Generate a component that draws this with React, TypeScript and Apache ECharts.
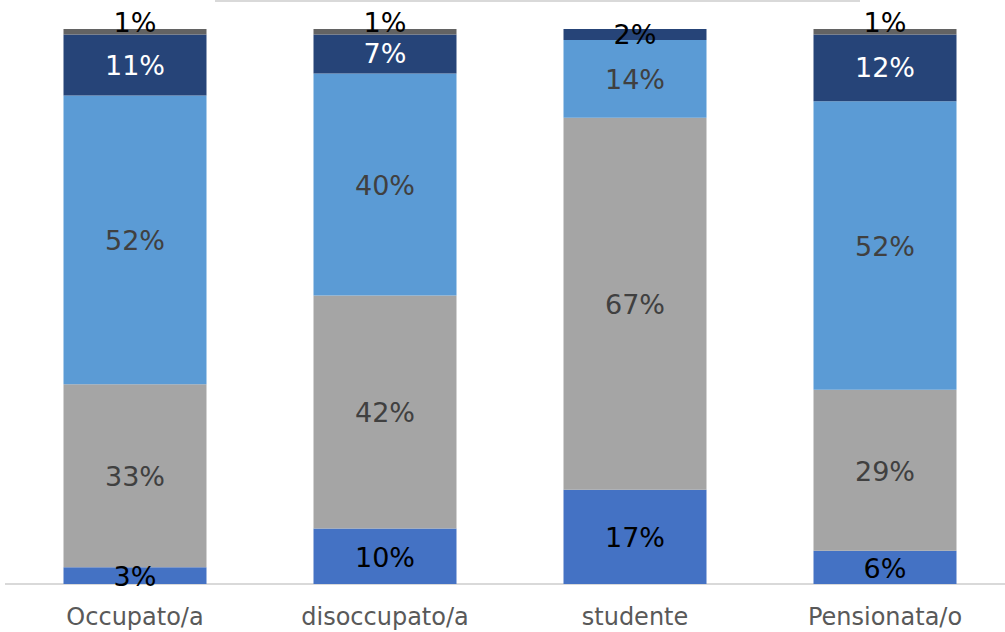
import React, { useEffect, useRef } from "react";
import * as echarts from "echarts";

const categories = ["Occupato/a", "disoccupato/a", "studente", "Pensionata/o"];
const serieA = [3, 10, 17, 6];
const serieB = [33, 42, 67, 29];
const serieC = [52, 40, 14, 52];
const serieD = [11, 7, 2, 12];
const serieE = [1, 1, 0, 1];
const colors = ["#4472C4", "#A5A5A5", "#5B9BD5", "#264478", "#636363"];
const labelColors = ["#000000", "#404040", "#404040", "#FFFFFF", "#000000"];
const darkLabelOverride = ["#FFFFFF", "#FFFFFF", "#000000", "#FFFFFF"];

export default function App() {
  const ref = useRef<HTMLDivElement>(null);
  useEffect(() => {
    const chart = echarts.init(ref.current!, null, { renderer: "svg" });
    const font = "DejaVu Sans";
    const all = [serieA, serieB, serieC, serieD, serieE];
    const series = all.map((vals, si) => ({
      type: "bar",
      stack: "s",
      barWidth: 143,
      itemStyle: { color: colors[si] },
      data: vals.map((v, i) => ({
        value: v,
        label: si === 3 ? { color: darkLabelOverride[i] } : undefined,
      })),
      label: {
        show: true,
        position: "inside",
        offset: si === 4 ? [0, -9] : si === 3 ? [0, 0] : [0, 1],
        formatter: (p: any) => (p.value ? p.value + "%" : ""),
        color: labelColors[si],
        fontFamily: font,
        fontSize: 27,
      },
    }));
    chart.setOption({
      animation: false,
      grid: { left: 10, right: -5, top: 29, bottom: 48, outerBoundsMode: "none", containLabel: false },
      xAxis: {
        type: "category",
        data: categories,
        axisTick: { show: false },
        axisLine: { lineStyle: { color: "#D9D9D9", width: 2 } },
        axisLabel: { color: "#595959", fontFamily: font, fontSize: 24, margin: 21 },
      },
      yAxis: { type: "value", min: 0, max: 100, show: false, splitLine: { show: false } },
      graphic: [
        { type: "rect", shape: { x: 215, y: 0, width: 645, height: 2 }, style: { fill: "#D9D9D9" } },
        { type: "rect", shape: { x: 5, y: 583, width: 6, height: 2 }, style: { fill: "#D9D9D9" } },
      ],
      series,
    });
    return () => chart.dispose();
  }, []);
  return (
    <div
      ref={ref}
      style={{ position: "absolute", left: 0, top: 0, width: 1005, height: 632, background: "#fff" }}
    />
  );
}
